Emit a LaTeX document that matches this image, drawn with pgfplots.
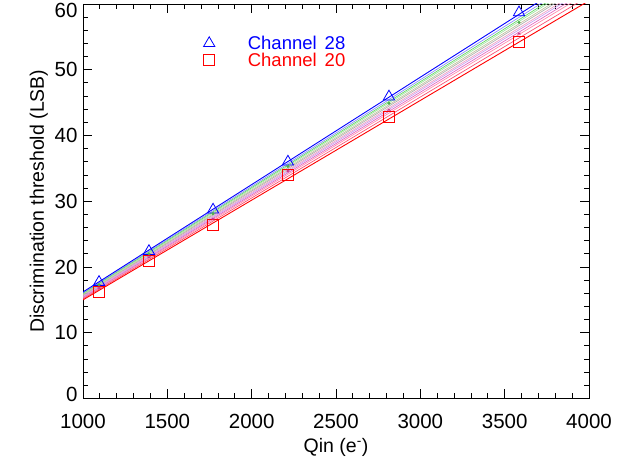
\documentclass[border=0pt]{standalone}
\usepackage{fontspec}
\setmainfont{Liberation Sans}
\usepackage{pgfplots}
\pgfplotsset{compat=1.18}
\definecolor{ltblue}{RGB}{140,140,255}
\definecolor{grn1}{RGB}{100,215,100}
\definecolor{grn2}{RGB}{160,230,160}
\definecolor{tan1}{RGB}{195,195,160}
\definecolor{gry1}{RGB}{175,175,175}
\definecolor{pnk1}{RGB}{240,160,195}
\definecolor{vio1}{RGB}{200,160,240}
\definecolor{mag1}{RGB}{225,105,195}
\definecolor{pnk2}{RGB}{255,140,175}
\definecolor{red1}{RGB}{250,80,115}
\begin{document}
\begin{tikzpicture}
\path[use as bounding box] (0,0) rectangle (644pt,462pt);
\begin{axis}[
  at={(83pt,63.5pt)}, anchor=south west,
  scale only axis, width=506pt, height=394.5pt,
  xmin=1000, xmax=4000, ymin=0, ymax=60,
  xtick={1000,1500,...,4000}, minor x tick num=4,
  ytick={0,10,...,60}, minor y tick num=4,
  yticklabels={\raisebox{4pt}[\height][\depth]{0},10,20,30,40,50,\raisebox{-6pt}[\height][\depth]{60}},
  tick align=inside, major tick length=9pt, minor tick length=5pt,
  every tick/.style={black, line width=0.8pt},
  axis line style={line width=0.8pt},
  /pgf/number format/1000 sep={},
  /pgf/number format/assume math mode=true,
  ticklabel style={font=\fontsize{20.5}{21}\selectfont},
  xticklabel style={yshift=-12pt},
  yticklabel style={xshift=-2pt},
  label style={font=\fontsize{19.5}{20}\selectfont},
  xlabel={Qin (e\textsuperscript{-})},
  xlabel style={yshift=-3pt},
  ylabel={Discrimination threshold (LSB)},
  legend style={draw=none, fill=none, at={(0.232,0.93)}, anchor=north west,
    font=\fontsize{18.5}{18.5}\selectfont, row sep=-2pt},
  legend cell align=left,
]
\addplot[blue, only marks, mark=triangle, mark size=6.5pt, line width=0.8pt]
  coordinates {(1095,17.7) (1391,22.4) (1771,28.7) (2215,36.0) (2814,45.9) (3585,58.7)};
\addlegendentry{\hspace{31pt}\textcolor{blue}{Channel\hspace{8pt}28}}
\addplot[red, only marks, mark=square, mark size=5.5pt, line width=0.8pt]
  coordinates {(1095,16.2) (1391,20.9) (1771,26.4) (2215,34.0) (2814,42.8) (3585,54.3)};
\addlegendentry{\hspace{31pt}\textcolor{red}{Channel\hspace{8pt}20}}
\addplot[ltblue, line width=0.7pt, forget plot] coordinates {(1000,16.05) (4000,64.7)};
\addplot[grn1, line width=0.7pt, forget plot] coordinates {(1000,15.95) (4000,64.3)};
\addplot[grn2, line width=0.7pt, forget plot] coordinates {(1000,15.85) (4000,64.0)};
\addplot[tan1, line width=0.7pt, forget plot] coordinates {(1000,15.75) (4000,63.6)};
\addplot[gry1, line width=0.7pt, forget plot] coordinates {(1000,15.65) (4000,63.3)};
\addplot[pnk1, line width=0.7pt, forget plot] coordinates {(1000,15.55) (4000,62.9)};
\addplot[vio1, line width=0.7pt, forget plot] coordinates {(1000,15.45) (4000,62.6)};
\addplot[mag1, line width=0.7pt, forget plot] coordinates {(1000,15.35) (4000,62.2)};
\addplot[pnk2, line width=0.7pt, forget plot] coordinates {(1000,15.25) (4000,61.8)};
\addplot[red1, line width=0.7pt, forget plot] coordinates {(1000,15.15) (4000,61.2)};
\addplot[blue, line width=0.9pt, forget plot] coordinates {(1000,16.2) (4000,65.2)};
\addplot[red, line width=0.9pt, forget plot] coordinates {(1000,15.0) (4000,60.5)};
\addplot[grn1!80!black, only marks, mark=*, mark size=1.3pt, forget plot]
  coordinates {(1095,17.3) (1391,22.0) (1771,28.1) (2215,35.3) (2814,44.9) (3585,57.2)};
\addplot[magenta!80!black, only marks, mark=asterisk, mark size=1.8pt, forget plot]
  coordinates {(1095,16.8) (1391,21.5) (1771,27.3) (2215,34.6) (2814,43.9) (3585,55.5)};
\end{axis}
\end{tikzpicture}
\end{document}
